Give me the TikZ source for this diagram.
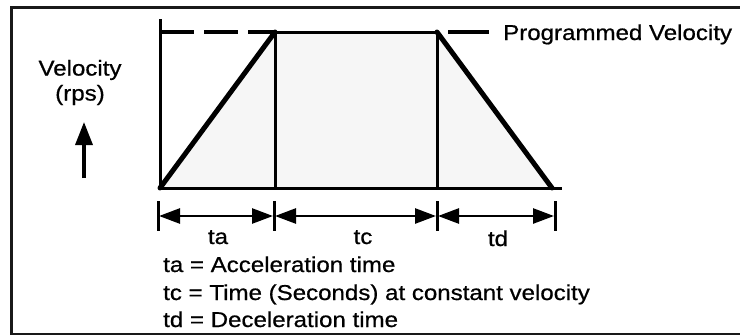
\documentclass[tikz,border=0pt]{standalone}
\usepackage{fontspec}
\setmainfont{Liberation Sans}[FakeStretch=1.12, FakeBold=0.7]
\usepackage{tikz}
\usetikzlibrary{arrows.meta, positioning, calc}
\definecolor{profgray}{RGB}{246,246,246}
\tikzset{
  %% ---- lines ----
  frameline/.style = {line width=3pt, color=black!90},
  ramp/.style      = {line width=5pt, line cap=round},
  edge/.style      = {line width=3pt},
  dashline/.style  = {line width=3.2pt, dash pattern=on 34pt off 10pt},
  tick/.style      = {line width=3pt},
  %% ---- arrows ----
  dimarrow/.style  = {{Triangle[length=21pt, width=15pt]}-{Triangle[length=21pt, width=15pt]},
                      line width=2.6pt, shorten <=1pt, shorten >=1pt},
  uparrow/.style   = {-{Triangle[length=23pt, width=17pt]}, line width=3.4pt},
  %% ---- text ----
  lbl/.style       = {inner sep=0pt, font=\fontsize{21.5}{26}\selectfont},
}
\begin{document}
\begin{tikzpicture}[x=1pt, y=-1pt]
\useasboundingbox (0,0) rectangle (740,335);
% frame
\draw[frameline] (745,7) -- (11,7) -- (11,334) -- (745,334);
% profile corners
\coordinate (axtop) at (160,19);
\coordinate (orig)  at (160,188);
\coordinate (pkA)   at (275,32);
\coordinate (pkB)   at (437,32);
\coordinate (footA) at (275,188);
\coordinate (footB) at (437,188);
\coordinate (stop)  at (552,188);
\coordinate (axend) at (562,188);
\coordinate (dstart) at (160,32);
\coordinate (dash2a) at (448,32);
\coordinate (dash2b) at (489,32);
\fill[profgray] (orig) -- (pkA) -- (pkB) -- (stop) -- cycle;
\draw[dashline] (dstart) -- (pkA);
\draw[dashline, dash pattern=] (dash2a) -- (dash2b);
\draw[edge] (axtop) -- (orig) -- (axend);
\draw[edge] (pkA) -- (pkB);
\draw[edge] (pkA) -- (footA);
\draw[edge] (pkB) -- (footB);
\draw[ramp] (orig) -- (pkA);
\draw[ramp] (pkB) -- (stop);
\node[lbl, anchor=base west] (prog) at (503,40) {Programmed Velocity};
% velocity axis label
\node[lbl] (vel) at (80,70) {Velocity};
\node[lbl] (rps) at (80,95) {(rps)};
\coordinate (uplow)  at (84,178);
\coordinate (uphigh) at (84,122);
\draw[uparrow] (uplow) -- (uphigh);
% time intervals
\foreach \n/\x in {d0/158, d1/274, d2/437, d3/555} {
  \coordinate (\n) at (\x,216);
  \draw[tick] (\x,201) -- (\x,231);
}
\draw[dimarrow] (d0) -- (d1);
\draw[dimarrow] (d1) -- (d2);
\draw[dimarrow] (d2) -- (d3);
\node[lbl, anchor=base] (ta) at (218,244) {ta};
\node[lbl, anchor=base] (tc) at (363,244) {tc};
\node[lbl, anchor=base] (td) at (498,246) {td};
% legend
\node[lbl, anchor=base west] (legA) at (163,272) {ta = Acceleration time};
\node[lbl, anchor=base west] (legC) at (163,300) {tc = Time (Seconds) at constant velocity};
\node[lbl, anchor=base west] (legD) at (163,327) {td = Deceleration time};
\end{tikzpicture}
\end{document}
